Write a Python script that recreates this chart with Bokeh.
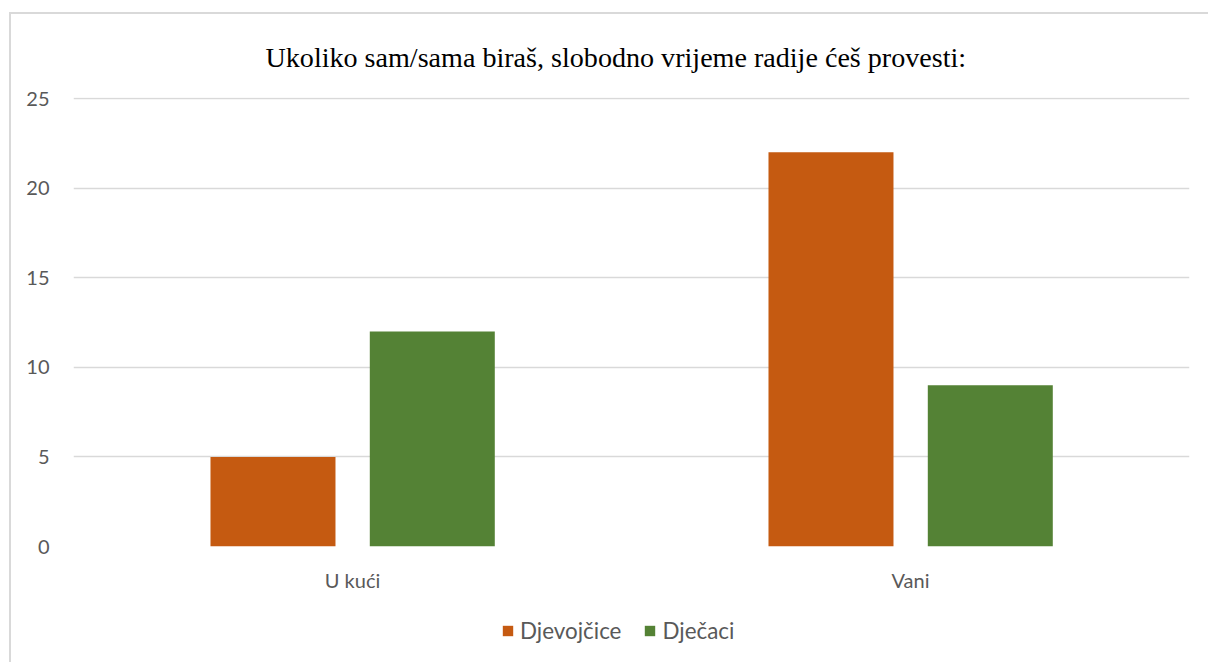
from bokeh.plotting import figure
from bokeh.models import FactorRange, Legend, LegendItem, Range1d, FixedTicker, ColumnDataSource, Column
from bokeh.transform import dodge
from bokeh.embed import file_html
from bokeh.resources import INLINE

categories = ["U kući", "Vani"]
djevojcice = [5, 22]
djecaci = [12, 9]
series_names = ["Djevojčice", "Dječaci"]
colors = ["#C55A11", "#548235"]
y_ticks = [0, 5, 10, 15, 20, 25]

src = ColumnDataSource(dict(cat=categories, d=djevojcice, m=djecaci))

# main chart
p = figure(x_range=FactorRange(*categories, range_padding=0), y_range=Range1d(0, 25.06),
           width=1197, height=586, output_backend="svg", toolbar_location=None,
           title="Ukoliko sam/sama biraš, slobodno vrijeme radije ćeš provesti:",
           min_border_left=62, min_border_right=19, min_border_top=83, min_border_bottom=54)

p.title.align = "left"
p.title.offset = 192
p.title.text_font = "Liberation Serif"
p.title.text_font_size = "28.1px"
p.title.text_font_style = "normal"
p.title.text_color = "#000000"
p.title.standoff = 50

bar_w = 0.224
p.vbar(x=dodge("cat", -0.1425, range=p.x_range), top="d", width=bar_w, source=src,
       fill_color=colors[0], line_color=None)
p.vbar(x=dodge("cat", 0.143, range=p.x_range), top="m", width=bar_w, source=src,
       fill_color=colors[1], line_color=None)

p.outline_line_color = None
p.xgrid.grid_line_color = None
p.ygrid.grid_line_color = "#d9d9d9"
p.ygrid.grid_line_width = 1.5
p.yaxis.ticker = FixedTicker(ticks=y_ticks)
for ax in (p.xaxis[0], p.yaxis[0]):
    ax.axis_line_color = None
    ax.major_tick_line_color = None
    ax.minor_tick_line_color = None
    ax.major_label_text_font = "Lato"
    ax.major_label_text_font_size = "20px"
    ax.major_label_text_color = "#595959"
p.yaxis.major_label_standoff = 18
p.xaxis.major_label_standoff = 15

# legend strip: hidden copies of the series renderers carry the legend swatches
lp = figure(x_range=FactorRange(*categories, range_padding=0), y_range=Range1d(0, 25),
            width=1197, height=62, output_backend="svg", toolbar_location=None,
            x_axis_type=None, y_axis_type=None,
            min_border_left=0, min_border_right=0, min_border_top=0, min_border_bottom=0)
lp.outline_line_color = None
l1 = lp.vbar(x=dodge("cat", -0.1425, range=lp.x_range), top="d", width=bar_w, source=src,
             fill_color=colors[0], line_color=None, visible=False)
l2 = lp.vbar(x=dodge("cat", 0.143, range=lp.x_range), top="m", width=bar_w, source=src,
             fill_color=colors[1], line_color=None, visible=False)
legend = Legend(items=[LegendItem(label=series_names[0], renderers=[l1]),
                       LegendItem(label=series_names[1], renderers=[l2])],
                orientation="horizontal", location=(428, 18),
                label_text_font="Lato", label_text_font_size="22.4px", label_text_color="#595959",
                glyph_width=13, glyph_height=13, spacing=22, label_standoff=6,
                inactive_fill_alpha=0,
                border_line_color=None, background_fill_alpha=0, margin=0, padding=0)
lp.add_layout(legend)

layout = Column(children=[p, lp], spacing=0,
                styles={"margin-left": "9px", "margin-top": "12px",
                        "border-top": "2px solid #d9d9d9", "border-left": "2px solid #d9d9d9"})

open("out.html", "w").write(file_html(layout, INLINE))
